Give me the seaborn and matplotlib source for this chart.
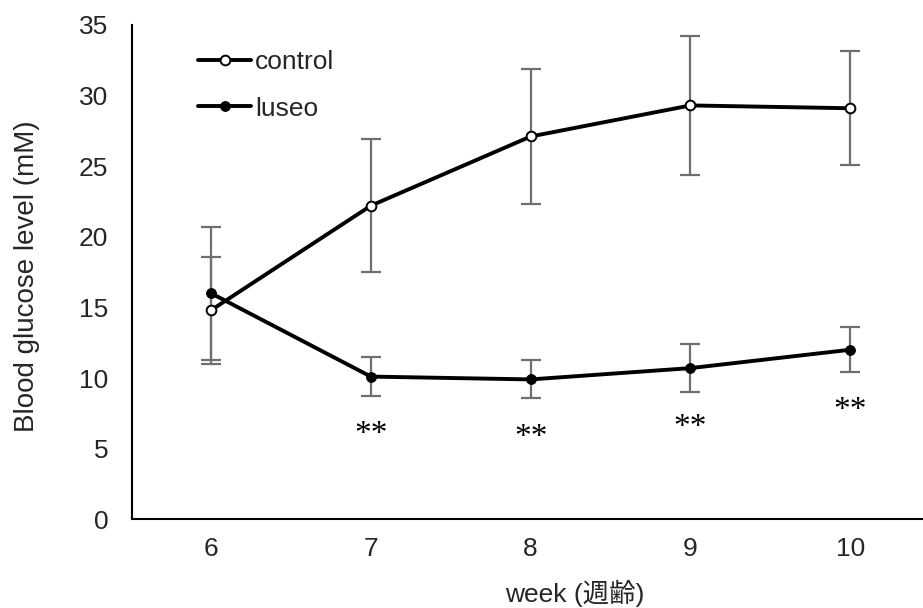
import matplotlib
matplotlib.use("Agg")
import matplotlib.pyplot as plt
import seaborn as sns
import pandas as pd
import numpy as np

weeks = [6, 7, 8, 9, 10]
control_mean = [14.8, 22.2, 27.1, 29.3, 29.1]
control_err = [3.8, 4.7, 4.75, 4.9, 4.05]
luseo_mean = [16.0, 10.1, 9.9, 10.7, 12.0]
luseo_err = [4.7, 1.4, 1.35, 1.7, 1.6]
star_weeks = [7, 8, 9, 10]
star_y = [6.0, 5.75, 6.45, 7.65]
star_text = "**"
yticks = [0, 5, 10, 15, 20, 25, 30, 35]

sns.set_theme(style="white")
plt.rcParams['font.family'] = ['Liberation Sans', 'Noto Sans CJK JP', 'DejaVu Sans']

df = pd.DataFrame({
    'week': weeks * 2,
    'glucose': control_mean + luseo_mean,
    'group': ['control'] * 5 + ['luseo'] * 5,
})

fig = plt.figure(figsize=(9.23, 6.08), dpi=100)
ax = fig.add_axes([0.143, 0.146, 0.856, 0.813])

errc = '#6f6f6f'
ax.errorbar(weeks, control_mean, yerr=control_err, fmt='none', ecolor=errc,
            elinewidth=1.6, capsize=7, capthick=1.6, zorder=1)
ax.errorbar(weeks, luseo_mean, yerr=luseo_err, fmt='none', ecolor=errc,
            elinewidth=1.6, capsize=7, capthick=1.6, zorder=1)

sns.lineplot(data=df[df.group == 'control'], x='week', y='glucose', ax=ax,
             color='black', linewidth=2.8, marker='o', markersize=7,
             markerfacecolor='white', markeredgecolor='black', markeredgewidth=1.4,
             label='control', zorder=3)
sns.lineplot(data=df[df.group == 'luseo'], x='week', y='glucose', ax=ax,
             color='black', linewidth=2.8, marker='o', markersize=7,
             markerfacecolor='black', markeredgecolor='black',
             label='luseo', zorder=3)

for w, yv in zip(star_weeks, star_y):
    ax.text(w, yv, star_text, ha='center', va='center', fontsize=24,
            family='Liberation Serif', color='black')

ax.set_xlim(5.505, 10.45)
ax.set_ylim(0, 35)
ax.set_xticks(weeks)
ax.set_xticklabels([str(w) for w in weeks])
ax.set_yticks(yticks)
ax.tick_params(axis='x', labelsize=19, length=0, pad=13)
ax.tick_params(axis='y', labelsize=19, length=0, pad=17)
for s in ['top', 'right']:
    ax.spines[s].set_visible(False)
for s in ['left', 'bottom']:
    ax.spines[s].set_color('black')
    ax.spines[s].set_linewidth(1.5)

ax.set_xlabel('week (週齢)', fontsize=19)
ax.xaxis.set_label_coords(0.56, -0.123)
ax.set_ylabel('Blood glucose level (mM)', fontsize=20)
ax.yaxis.set_label_coords(-0.117, 0.492)

ax.legend(loc='upper left', bbox_to_anchor=(0.054, 0.997), frameon=False,
          fontsize=19, handlelength=2.0, handletextpad=0.15, labelspacing=0.85)

fig.savefig('out.png', dpi=100)
